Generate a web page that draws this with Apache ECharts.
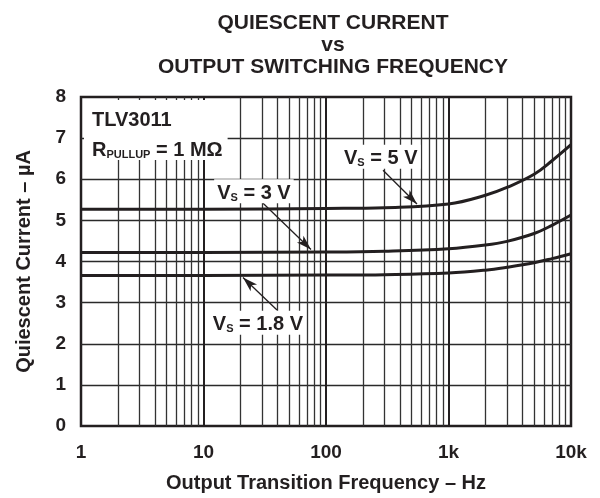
<!DOCTYPE html>
<html>
<head>
<meta charset="utf-8">
<style>html,body{margin:0;padding:0;background:#fff}#c{width:600px;height:498px}</style>
<script src="https://cdn.jsdelivr.net/npm/echarts@6/dist/echarts.min.js"></script>
</head>
<body>
<div id="c"></div>
<script>
// ---- data ----
var freqs = [1, 10, 100, 300, 1000, 2000, 3000, 5000, 7000, 10000];
var iq5V  = [5.27, 5.27, 5.29, 5.31, 5.40, 5.61, 5.80, 6.12, 6.45, 6.84];
var iq3V  = [4.22, 4.22, 4.23, 4.25, 4.31, 4.40, 4.49, 4.68, 4.88, 5.13];
var iq18V = [3.66, 3.66, 3.67, 3.68, 3.72, 3.79, 3.86, 3.97, 4.07, 4.19];
var yTicks = [0, 1, 2, 3, 4, 5, 6, 7, 8];
var xTickLabels = {1: '1', 10: '10', 100: '100', 1000: '1k', 10000: '10k'};
var minorFreqs = [2,3,4,5,6,7,8,9,20,30,40,50,60,70,80,90,200,300,400,500,600,700,800,900,2000,3000,4000,5000,6000,7000,8000,9000];

var FONT = '"Liberation Sans", Arial, Helvetica, sans-serif';
var INK = '#231f20';

function pairs(xs, ys) { return xs.map(function (x, i) { return [x, ys[i]]; }); }

var vsRich = {
  v: { fontSize: 20, fontWeight: 'bold', fontFamily: FONT, color: INK, lineHeight: 24, verticalAlign: 'bottom' },
  s: { fontSize: 11, fontWeight: 'bold', fontFamily: FONT, color: INK, lineHeight: 11, verticalAlign: 'bottom' }
};

function annot(coord, text) {
  return {
    value: coord,
    label: {
      show: true, position: 'inside', formatter: text, opacity: 1,
      backgroundColor: '#fff', padding: [0, 3, 0, 3], rich: vsRich
    }
  };
}

var chart = echarts.init(document.getElementById('c'), null, { renderer: 'canvas' });
chart.setOption({
  animation: false,
  backgroundColor: '#fff',
  title: {
    text: 'QUIESCENT CURRENT\nvs\nOUTPUT SWITCHING FREQUENCY',
    left: 328, top: 7, textAlign: 'center',
    textStyle: { fontFamily: FONT, fontWeight: 'bold', fontSize: 21, lineHeight: 22, color: INK }
  },
  grid: { left: 81, right: 29, top: 97, bottom: 71, show: true, borderColor: INK, borderWidth: 2.5, backgroundColor: 'transparent' },
  xAxis: {
    type: 'log', logBase: 10, min: 1, max: 10000,
    name: 'Output Transition Frequency – Hz', nameLocation: 'middle', nameGap: 47,
    nameTextStyle: { fontFamily: FONT, fontWeight: 'bold', fontSize: 20, color: INK },
    axisLine: { show: false }, axisTick: { show: false },
    axisLabel: { fontFamily: FONT, fontWeight: 'bold', fontSize: 19, color: INK, margin: 17,
      formatter: function (v) { return xTickLabels[Math.round(v)] || ''; } },
    splitLine: { show: true, showMinLine: false, showMaxLine: false, lineStyle: { color: INK, width: 2 } }
  },
  yAxis: {
    type: 'value', min: yTicks[0], max: yTicks[yTicks.length - 1], interval: 1,
    name: 'Quiescent Current – µA', nameLocation: 'middle', nameGap: 47,
    nameTextStyle: { fontFamily: FONT, fontWeight: 'bold', fontSize: 20, color: INK },
    axisLine: { show: false }, axisTick: { show: false },
    axisLabel: { fontFamily: FONT, fontWeight: 'bold', fontSize: 19, color: INK, margin: 15 },
    splitLine: { show: true, showMinLine: false, showMaxLine: false, lineStyle: { color: '#2a2a2a', width: 1.3 } }
  },
  series: [
    {
      type: 'line', data: [], silent: true, z: 1,
      markLine: {
        silent: true, symbol: 'none', label: { show: false }, z: 1,
        lineStyle: { color: '#333', width: 1.3, type: 'solid' },
        emphasis: { disabled: true },
        data: minorFreqs.map(function (f) { return { xAxis: f }; })
      }
    },
    { name: '5 V', type: 'line', data: pairs(freqs, iq5V), smooth: 0.4, showSymbol: false, z: 6,
      lineStyle: { color: INK, width: 3 } },
    { name: '3 V', type: 'line', data: pairs(freqs, iq3V), smooth: 0.4, showSymbol: false, z: 6,
      lineStyle: { color: INK, width: 3 } },
    { name: '1.8 V', type: 'line', data: pairs(freqs, iq18V), smooth: 0.4, showSymbol: false, z: 6,
      lineStyle: { color: INK, width: 3 } },
    {
      type: 'scatter', symbolSize: 0, z: 10, silent: true,
      itemStyle: { opacity: 1 },
      data: [
        annot([280, 6.55], '{v|V}{s|S}{v| = 5 V}'),
        annot([25.8, 5.71], '{v|V}{s|S}{v| = 3 V}'),
        annot([27.8, 2.51], '{v|V}{s|S}{v| = 1.8 V}'),
        {
          value: [1, 8],
          label: {
            show: true, position: [3, 3], align: 'left', verticalAlign: 'top', opacity: 1,
            backgroundColor: '#fff', padding: [0, 5, 0, 8],
            formatter: '{v|TLV3011}\n{v|R}{s|PULLUP}{v| = 1 MΩ}',
            rich: {
              v: { fontSize: 20, fontWeight: 'bold', fontFamily: FONT, color: INK, lineHeight: 30, verticalAlign: 'bottom' },
              s: { fontSize: 11, fontWeight: 'bold', fontFamily: FONT, color: INK, lineHeight: 16, verticalAlign: 'bottom' }
            }
          }
        }
      ],
      markLine: {
        silent: true, symbol: ['none', 'arrow'], symbolSize: [7, 15], z: 5,
        label: { show: false },
        lineStyle: { color: INK, width: 1.3, type: 'solid' },
        data: [
          [{ coord: [292, 6.22] }, { coord: [553, 5.40] }],
          [{ coord: [28.9, 5.49] }, { coord: [75.4, 4.29] }],
          [{ coord: [39.8, 2.82] }, { coord: [21.0, 3.61] }]
        ]
      }
    }
  ]
});
</script>
</body>
</html>
